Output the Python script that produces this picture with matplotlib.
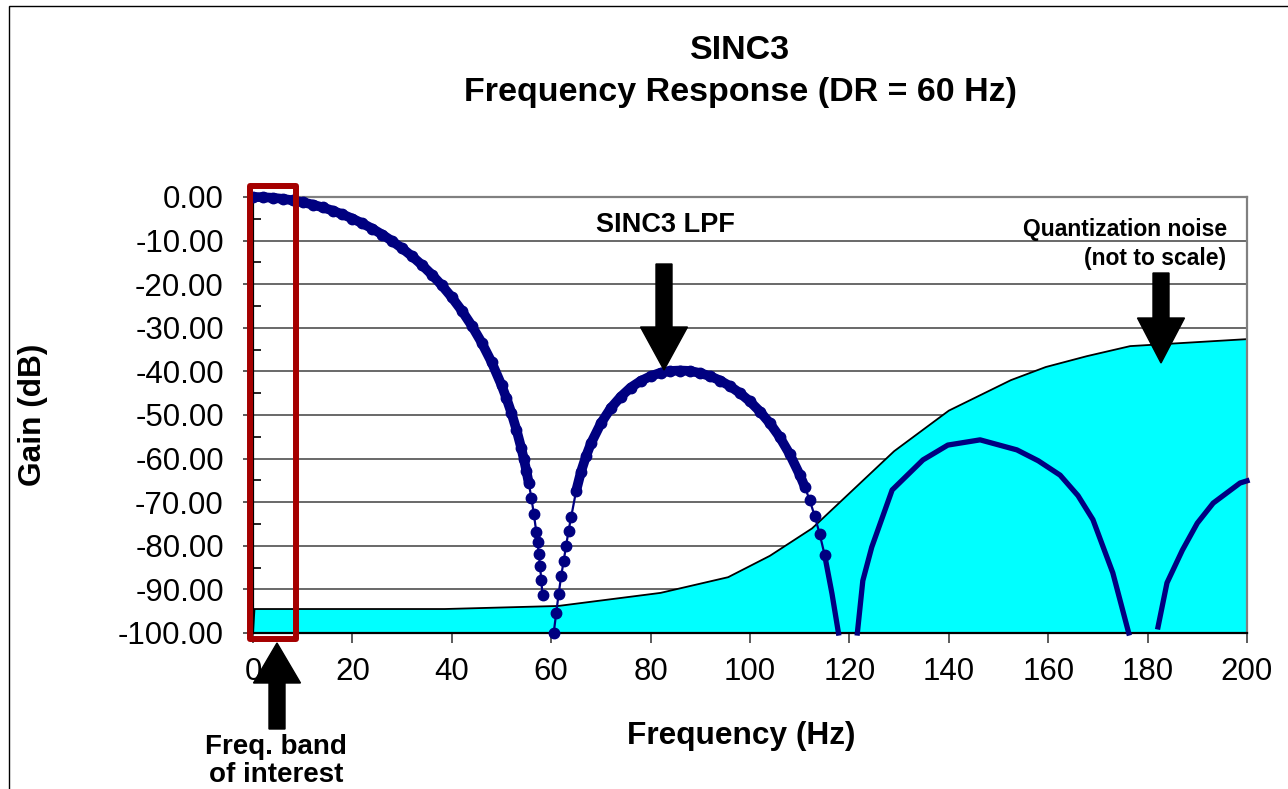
import numpy as np
import matplotlib
matplotlib.use("Agg")
import matplotlib.pyplot as plt
import matplotlib.patches as mpatches
from matplotlib.ticker import MultipleLocator, FormatStrFormatter

plt.rcParams["font.family"] = ["Liberation Sans", "DejaVu Sans"]

# SINC3 response, densely sampled part (marker series)
freq_dense = [0, 2, 4, 6, 8, 10, 12, 14, 16, 18, 20, 22, 24, 26, 28, 30, 32, 34, 36, 38,
              40, 42, 44, 46, 48, 50, 51, 52, 53, 54, 54.5, 55, 55.5, 56, 56.5, 57, 57.25,
              57.5, 57.75, 58, 58.25, np.nan,
              60.5, 61, 61.5, 62, 62.5, 63, 63.5, 64, 65, 66, 67, 68, 70, 72, 74, 76, 78,
              80, 82, 84, 86, 88, 90, 92, 94, 96, 98, 100, 102, 104, 106, 108, 110, 111,
              112, 113, 114, 115]
gain_dense = [0, -0.05, -0.19, -0.43, -0.77, -1.2, -1.74, -2.38, -3.12, -3.98, -4.95, -6.04,
              -7.26, -8.61, -10.11, -11.77, -13.59, -15.6, -17.83, -20.28,
              -23.01, -26.06, -29.48, -33.38, -37.86, -43.14, -46.17, -49.54, -53.34, -57.68,
              -60.12, -62.78, -65.7, -68.96, -72.63, -76.83, -79.19, -81.77, -84.62, -87.79,
              -91.37, np.nan,
              -100, -95.5, -91, -87, -83.5, -80, -76.5, -73.5, -67.5, -63, -59.5, -56.5,
              -51.9, -48.4, -45.8, -43.7, -42.2, -41.1, -40.3, -39.9, -39.8, -39.9, -40.4,
              -41.1, -42.1, -43.4, -45, -46.9, -49.2, -51.9, -55.1, -59, -63.7, -66.4,
              -69.5, -73.1, -77.2, -82]

# coarse part (plain line)
freq_coarse = [115, 116.5, 117.8, np.nan,
               121.6, 122.7, 124.5, 128.6, 134.8, 139.8, 146.3, 153.7, 158, 162.4, 166,
               169, 173, 176.2, np.nan,
               182.1, 183.9, 187, 190, 193.2, 198.6, 200]
gain_coarse = [-82, -91, -100, np.nan,
               -100, -88, -80.3, -67.2, -60.3, -56.9, -55.7, -58, -60.5, -63.8, -68.5,
               -74, -86.2, -100, np.nan,
               -98.6, -88.5, -81, -74.8, -70.2, -65.6, -65.1]

# quantization noise envelope
freq_noise = [0, 0.3, 38.6, 61.4, 82, 95.6, 104, 112.5, 129, 140, 152.5, 159.5, 167.8, 176.5, 200]
gain_noise = [-100, -94.5, -94.5, -93.8, -90.8, -87.2, -82.3, -76, -58.3, -49, -42, -39,
              -36.5, -34.2, -32.6]

y_ticks = [0, -10, -20, -30, -40, -50, -60, -70, -80, -90, -100]
x_ticks = [0, 20, 40, 60, 80, 100, 120, 140, 160, 180, 200]

W, H = 1288, 789


def fx(px):
    return px / W


def fy(py):
    return 1 - py / H


fig = plt.figure(figsize=(W / 100, H / 100), dpi=100)
ax = fig.add_axes([fx(253), fy(633), fx(1247) - fx(253), fy(197) - fy(633)])

navy = "#000080"

# noise area
ax.fill(np.r_[freq_noise, 200, 0], np.r_[gain_noise, -100, -100],
        facecolor="#00FFFF", edgecolor="black", lw=1.3, zorder=1.5)

fd = np.array(freq_dense, dtype=float)
gd = np.array(gain_dense, dtype=float)
ax.plot(fd, gd, "-o", color=navy, lw=1.6, ms=7.5, zorder=3, clip_on=False)
thick = np.where(gd > -68, gd, np.nan)
ax.plot(fd, thick, "-", color=navy, lw=7, zorder=3, clip_on=False,
        solid_capstyle="round")
ax.plot(freq_coarse, gain_coarse, "-", color=navy, lw=3.8, zorder=3, clip_on=False)

ax.set_xlim(0, 200)
ax.set_ylim(-100, 0)
ax.set_xticks(x_ticks)
ax.set_yticks(y_ticks)
ax.yaxis.set_major_formatter(FormatStrFormatter("%.2f"))
ax.yaxis.set_minor_locator(MultipleLocator(5))
ax.tick_params(axis="both", which="major", direction="out", length=7, width=1.2,
               labelsize=22.5, color="#404040")
ax.tick_params(axis="y", which="major", pad=14)
ax.tick_params(axis="x", which="major", pad=10)
ax.tick_params(axis="y", which="minor", direction="in", length=5.5, width=1.2)
ax.set_axisbelow(True)
ax.grid(axis="y", which="major", color="#404040", lw=1.1)

for s in ["left", "bottom"]:
    ax.spines[s].set_color("black")
    ax.spines[s].set_linewidth(1.6)
for s in ["top", "right"]:
    ax.spines[s].set_color("#808080")
    ax.spines[s].set_linewidth(1.6)

# band of interest box
box = mpatches.Rectangle((-0.7, -101.3), 9.35, 103.9, fill=False, edgecolor="#A50000",
                         lw=4.3, joinstyle="round", clip_on=False, zorder=5)
ax.add_patch(box)

# text
fig.text(fx(740), fy(59), "SINC3", ha="center", va="baseline", fontsize=24.5,
         fontweight="bold")
fig.text(fx(740), fy(101), "Frequency Response (DR = 60 Hz)", ha="center", va="baseline",
         fontsize=24.5, fontweight="bold")
fig.text(fx(741), fy(744), "Frequency (Hz)", ha="center", va="baseline", fontsize=22.8,
         fontweight="bold")
fig.text(fx(33), fy(415), "Gain (dB)", ha="center", va="center", rotation=90,
         fontsize=22.8, fontweight="bold")
fig.text(fx(665), fy(232), "SINC3 LPF", ha="center", va="baseline", fontsize=19.5,
         fontweight="bold")
fig.text(fx(1227), fy(236), "Quantization noise", ha="right", va="baseline", fontsize=16.5,
         fontweight="bold")
fig.text(fx(1226), fy(265), "(not to scale)", ha="right", va="baseline", fontsize=16.5,
         fontweight="bold")
fig.text(fx(276), fy(754), "Freq. band", ha="center", va="baseline", fontsize=20,
         fontweight="bold")
fig.text(fx(276), fy(782), "of interest", ha="center", va="baseline", fontsize=20,
         fontweight="bold")


def block_arrow(x, y0, y1, head_len, shaft_w=16, head_w=47):
    arr = mpatches.FancyArrow(fx(x), fy(y0), 0, fy(y1) - fy(y0), width=shaft_w / W,
                              head_width=head_w / W, head_length=head_len / H,
                              length_includes_head=True, color="black",
                              transform=fig.transFigure, zorder=6)
    fig.add_artist(arr)


block_arrow(664, 264, 370, 43)
block_arrow(1161, 273, 363, 45)
block_arrow(277, 729, 643, 40)

# outer frame
frame = mpatches.Rectangle((fx(9), -0.1), 1.2, fy(6) + 0.1, fill=False, edgecolor="black",
                           lw=1, transform=fig.transFigure)
fig.add_artist(frame)

fig.savefig("out.png", dpi=100)
